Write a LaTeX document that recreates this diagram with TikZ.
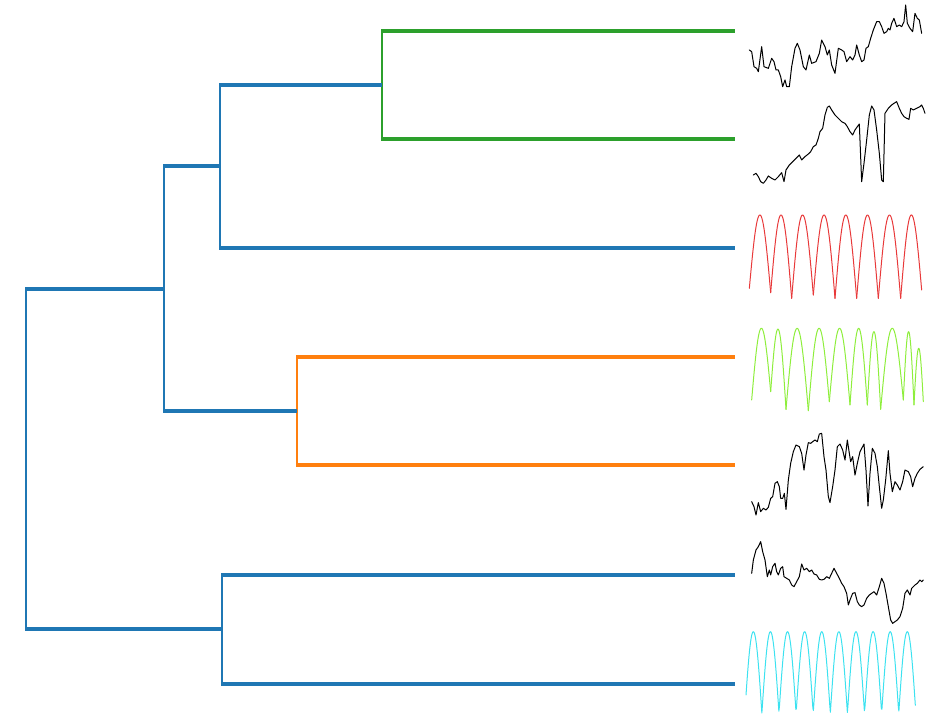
\documentclass[tikz,border=0pt]{standalone}
\usepackage{tikz}

\definecolor{treeblue}{HTML}{1F77B4}
\definecolor{treegreen}{HTML}{2CA02C}
\definecolor{treeorange}{HTML}{FF7F0E}
\definecolor{sigred}{HTML}{E8393A}
\definecolor{siglime}{HTML}{8EEE3C}
\definecolor{sigcyan}{HTML}{3CE2F0}

\begin{document}
\begin{tikzpicture}[
    x=1pt,
    y=-1pt,
    hbranch/.style={
        line width=4pt
    },
    vbranch/.style={
        line width=2.4pt,
        shorten <=-2pt,
        shorten >=-2pt
    },
    signal/.style={
        line width=1pt,
        line join=round,
        line cap=round
    }
]

\useasboundingbox (0,0) rectangle (934,720);

% ------------------------------------------------
% Leaves and merge points
% ------------------------------------------------

\coordinate (leafa) at (735,31);
\coordinate (leafb) at (735,139);
\coordinate (leafc) at (735,248);
\coordinate (leafd) at (735,357);
\coordinate (leafe) at (735,465);
\coordinate (leaff) at (735,575);
\coordinate (leafg) at (735,684);

\coordinate (mergeab)  at (382,85);
\coordinate (mergeabc) at (220,166);
\coordinate (mergede)  at (297,411);
\coordinate (mergetop) at (164,289);
\coordinate (mergefg)  at (222,629);
\coordinate (root)     at (26,459);

% ------------------------------------------------
% Green cluster
% ------------------------------------------------

\draw[vbranch, treegreen] (mergeab |- leafa) -- (mergeab |- leafb);
\draw[hbranch, treegreen] (mergeab |- leafa) -- (leafa);
\draw[hbranch, treegreen] (mergeab |- leafb) -- (leafb);

% ------------------------------------------------
% Orange cluster
% ------------------------------------------------

\draw[vbranch, treeorange] (mergede |- leafd) -- (mergede |- leafe);
\draw[hbranch, treeorange] (mergede |- leafd) -- (leafd);
\draw[hbranch, treeorange] (mergede |- leafe) -- (leafe);

% ------------------------------------------------
% Blue links
% ------------------------------------------------

\draw[vbranch, treeblue] (mergeabc |- mergeab) -- (mergeabc |- leafc);
\draw[hbranch, treeblue] (mergeabc |- mergeab) -- (mergeab);
\draw[hbranch, treeblue] (mergeabc |- leafc) -- (leafc);

\draw[vbranch, treeblue] (mergetop |- mergeabc) -- (mergetop |- mergede);
\draw[hbranch, treeblue] (mergetop |- mergeabc) -- (mergeabc);
\draw[hbranch, treeblue] (mergetop |- mergede) -- (mergede);

\draw[vbranch, treeblue] (mergefg |- leaff) -- (mergefg |- leafg);
\draw[hbranch, treeblue] (mergefg |- leaff) -- (leaff);
\draw[hbranch, treeblue] (mergefg |- leafg) -- (leafg);

\draw[vbranch, treeblue] (root |- mergetop) -- (root |- mergefg);
\draw[hbranch, treeblue] (root |- mergetop) -- (mergetop);
\draw[hbranch, treeblue] (root |- mergefg) -- (mergefg);

% ------------------------------------------------
% Signals next to the leaves
% ------------------------------------------------

\begin{scope}[shift={(740,0)}, x=0.3333pt, y=-0.3333pt]
    % first and second signal
    \draw[signal, black] (28,150) -- (35,155) -- (42,200) -- (50,205) -- (55,215) -- (65,140) -- (72,200) -- (85,205) -- (95,175) -- (102,185) -- (108,210) -- (115,210) -- (122,230) -- (128,260) -- (135,240) -- (140,260) -- (148,260) -- (155,200) -- (165,145) -- (172,130) -- (180,150) -- (190,200) -- (198,210) -- (208,165) -- (215,190) -- (228,185) -- (238,160) -- (245,120) -- (255,140) -- (262,165) -- (268,150) -- (275,195) -- (285,220) -- (295,145) -- (305,150) -- (312,155) -- (320,185) -- (330,170) -- (338,180) -- (345,165) -- (350,135) -- (358,165) -- (365,185) -- (372,180) -- (378,145) -- (385,140) -- (392,115) -- (400,90) -- (410,65) -- (418,65) -- (425,80) -- (432,100) -- (440,95) -- (445,85) -- (450,90) -- (455,70) -- (462,55) -- (470,80) -- (478,75) -- (485,80) -- (492,65) -- (497,15) -- (502,70) -- (510,85) -- (518,95) -- (525,40) -- (532,55) -- (538,60) -- (545,100);
    \draw[signal, black] (40,525) -- (48,520) -- (55,530) -- (62,545) -- (70,550) -- (78,540) -- (85,528) -- (95,535) -- (105,540) -- (115,530) -- (125,518) -- (132,545) -- (138,510) -- (148,495) -- (158,485) -- (168,475) -- (178,465) -- (185,480) -- (195,470) -- (205,462) -- (212,455) -- (220,440) -- (228,435) -- (235,415) -- (240,395) -- (248,385) -- (255,345) -- (262,322) -- (268,318) -- (275,330) -- (285,345) -- (295,355) -- (305,365) -- (315,370) -- (322,380) -- (330,395) -- (338,405) -- (345,390) -- (352,380) -- (358,372) -- (365,545) -- (372,490) -- (380,420) -- (388,345) -- (395,318) -- (402,330) -- (410,390) -- (418,460) -- (425,540) -- (430,545) -- (435,340) -- (445,325) -- (455,315) -- (462,310) -- (470,305) -- (478,325) -- (485,340) -- (492,350) -- (500,355) -- (507,358) -- (512,325) -- (520,330) -- (530,325) -- (540,320) -- (545,315) -- (550,325) -- (555,340);
\end{scope}

\begin{scope}[shift={(740,200)}, x=0.3333pt, y=-0.3333pt]
    % third signal
    \foreach \a/\ya/\b/\yb in {28/265/92/278, 92/278/155/295, 155/295/220/285, 220/285/285/295, 285/295/350/295, 350/295/415/295, 415/295/482/295, 482/295/545/270}
        \draw[signal, sigred] plot[domain=0:180, samples=40] ({\a+(\b-\a)*\x/180}, {\ya+(\yb-\ya)*\x/180-((\ya+\yb)/2-45)*sin(\x)});
    % fourth signal
    \foreach \a/\ya/\b/\yb/\p in {35/600/92/575/385, 92/575/138/628/388, 138/628/205/632/385, 205/632/268/605/385, 268/605/330/615/385, 330/615/382/615/385, 382/615/422/628/395, 422/628/490/600/385, 490/600/522/615/395, 522/615/550/605/445}
        \draw[signal, siglime] plot[domain=0:180, samples=40] ({\a+(\b-\a)*\x/180}, {\ya+(\yb-\ya)*\x/180-((\ya+\yb)/2-\p)*sin(\x)});
\end{scope}

\begin{scope}[shift={(740,420)}, x=0.3333pt, y=-0.3333pt]
    % fifth signal
    \draw[signal, black] (35,245) -- (42,260) -- (48,285) -- (55,248) -- (62,275) -- (70,265) -- (78,270) -- (85,262) -- (92,235) -- (98,230) -- (105,190) -- (112,185) -- (118,200) -- (122,235) -- (128,235) -- (133,220) -- (138,268) -- (145,180) -- (152,130) -- (160,95) -- (168,75) -- (178,80) -- (185,100) -- (192,150) -- (198,105) -- (205,68) -- (212,70) -- (218,65) -- (225,60) -- (232,65) -- (238,42) -- (245,40) -- (252,110) -- (258,150) -- (265,230) -- (270,248) -- (278,200) -- (285,150) -- (292,80) -- (300,72) -- (308,90) -- (315,120) -- (322,60) -- (328,100) -- (332,125) -- (338,110) -- (345,165) -- (352,130) -- (360,95) -- (372,72) -- (378,150) -- (384,258) -- (390,160) -- (397,85) -- (405,100) -- (412,140) -- (418,200) -- (425,265) -- (430,240) -- (437,180) -- (445,92) -- (450,160) -- (457,215) -- (465,185) -- (472,195) -- (480,210) -- (488,185) -- (495,150) -- (505,155) -- (512,170) -- (518,200) -- (525,175) -- (532,160) -- (540,148) -- (550,140);
    % sixth signal
    \draw[signal, black] (35,460) -- (40,420) -- (48,390) -- (55,380) -- (62,365) -- (68,395) -- (75,420) -- (82,470) -- (88,450) -- (92,465) -- (98,440) -- (105,430) -- (110,455) -- (115,465) -- (122,445) -- (128,440) -- (132,470) -- (140,475) -- (148,480) -- (155,495) -- (162,500) -- (170,485) -- (178,470) -- (185,432) -- (192,450) -- (200,445) -- (208,455) -- (215,450) -- (222,462) -- (230,465) -- (238,478) -- (245,480) -- (252,478) -- (260,470) -- (268,475) -- (275,460) -- (282,445) -- (290,460) -- (298,475) -- (305,490) -- (312,500) -- (320,520) -- (325,555) -- (330,540) -- (338,520) -- (345,518) -- (352,545) -- (358,555) -- (365,560) -- (372,555) -- (380,535) -- (388,525) -- (395,520) -- (402,515) -- (410,525) -- (418,500) -- (425,475) -- (432,490) -- (438,520) -- (445,560) -- (452,600) -- (458,610) -- (465,605) -- (472,600) -- (480,590) -- (488,565) -- (495,520) -- (502,510) -- (510,525) -- (515,505) -- (525,495) -- (532,490) -- (540,480) -- (545,485) -- (550,480);
    % seventh signal
    \draw[signal, sigcyan] plot[domain=18:526, samples=300] (\x, {880-245*abs(sin((\x-14.3)*3.5067))});
\end{scope}

\end{tikzpicture}
\end{document}
